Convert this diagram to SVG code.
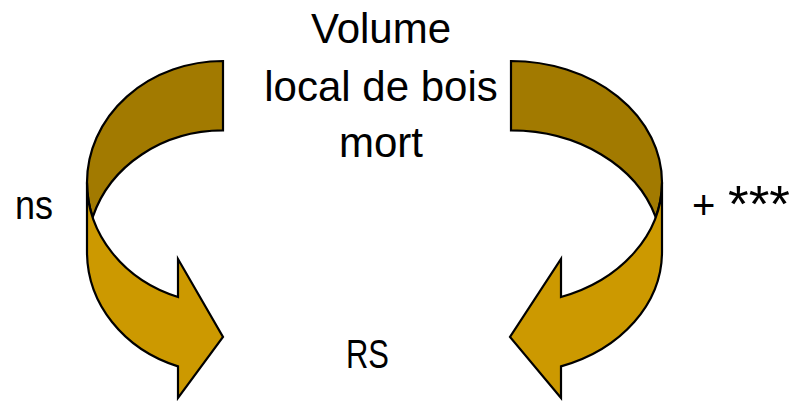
<svg xmlns="http://www.w3.org/2000/svg" width="795" height="402" viewBox="0 0 795 402">
<style>
.dark{fill:#A27A00;stroke:#000;stroke-width:2.2;stroke-linejoin:miter}
.light{fill:#CC9900;stroke:#000;stroke-width:2.2;stroke-linejoin:miter}
.t{font-family:"Liberation Sans",Arial,sans-serif;fill:#000}
.big{font-size:42px;text-anchor:middle}
.lbl{font-size:40px}
</style>
<rect width="795" height="402" fill="#fff"/>
<g id="connectors">
<g id="arrow-left">
<path class="dark" d="M223,61 A136,121.4 0 0 0 87,182.4 A136,121.4 0 0 0 92.7,217.1 A136,121.4 0 0 1 223,130.4 Z"/>
<path class="light" d="M178,366.4 A136,121.4 0 0 1 87,251.8 L87,182.4 A136,121.4 0 0 0 178,297 L178,259 L223,337 L178,398 Z"/>
</g>
<g id="arrow-right">
<path class="dark" d="M511,61 A151,121.4 0 0 1 662,182.4 A151,121.4 0 0 1 655.7,217.1 A151,121.4 0 0 0 511,130.4 Z"/>
<path class="light" d="M561,366.4 A151,121.4 0 0 0 662,251.8 L662,182.4 A151,121.4 0 0 1 561,297 L561,259 L510,337 L561,398 Z"/>
</g>
</g>
<g id="node-volume">
<text class="t big" x="381" y="43">Volume</text>
<text class="t big" x="381" y="101">local de bois</text>
<text class="t big" x="381" y="157">mort</text>
</g>
<g id="node-ns"><text class="t lbl" x="15" y="219" textLength="38" lengthAdjust="spacingAndGlyphs">ns</text></g>
<g id="node-plus"><text class="t lbl" x="692" y="219">+<tspan x="728" y="222" font-size="52" textLength="62" lengthAdjust="spacingAndGlyphs">***</tspan></text></g>
<g id="node-rs"><text class="t lbl" x="346" y="368" textLength="43" lengthAdjust="spacingAndGlyphs">RS</text></g>
</svg>
